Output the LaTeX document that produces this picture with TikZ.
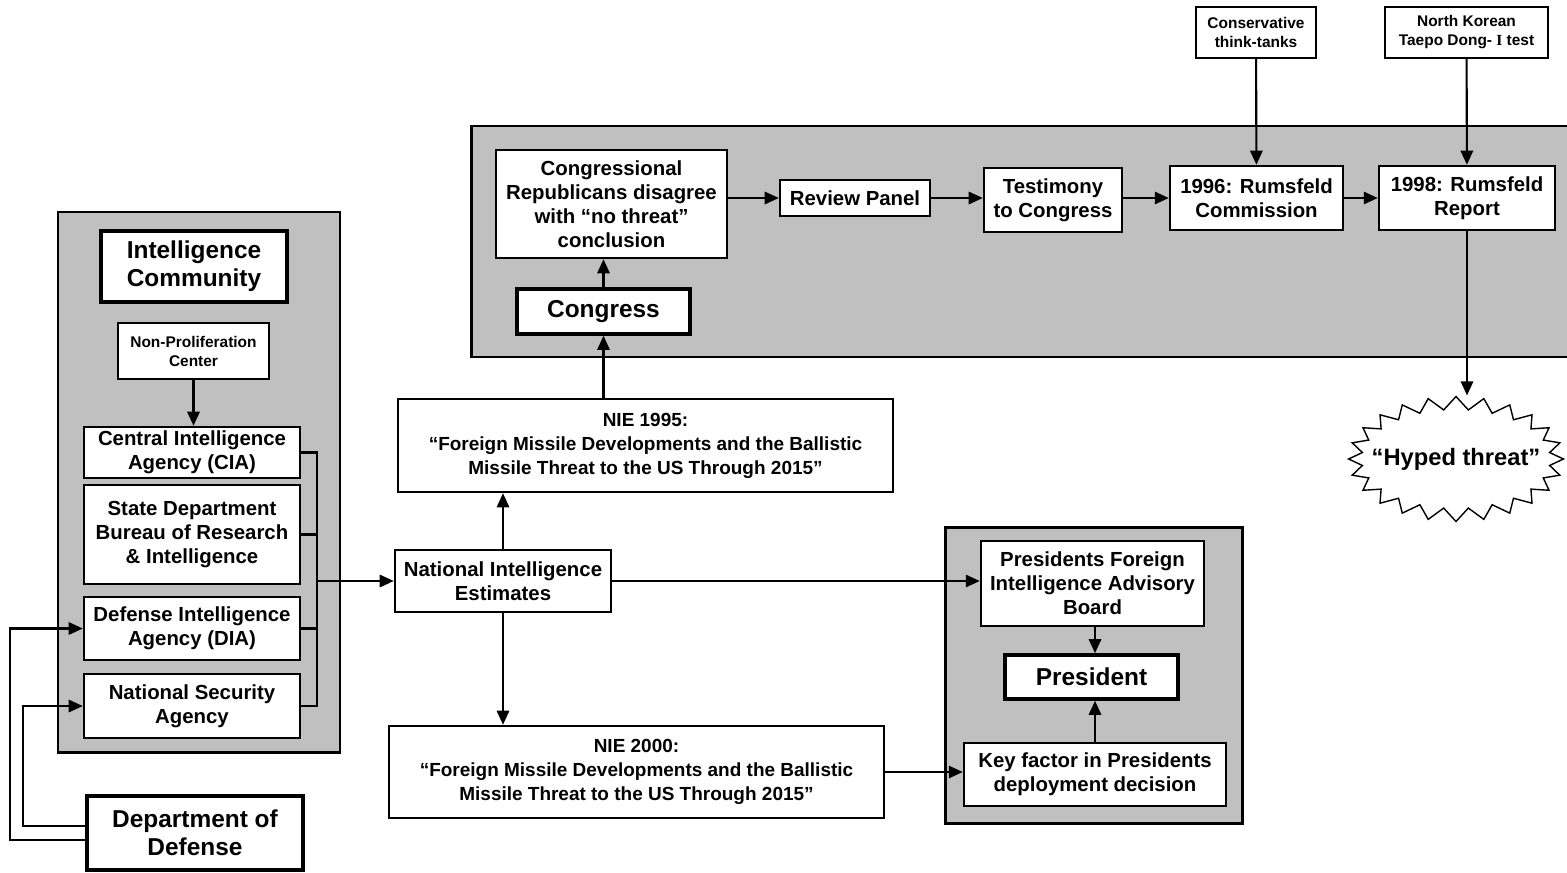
\documentclass[tikz,border=0pt]{standalone}
\usepackage{fontspec}
\setmainfont{Liberation Sans}
\newfontfamily\romanI{Liberation Serif}
\usetikzlibrary{arrows.meta}
\usetikzlibrary{shapes.symbols}
\definecolor{panelgray}{RGB}{192,192,192}
\newcommand\midfont{\bfseries\fontsize{11.6}{13.6}\selectfont}
\newcommand\bigfont{\bfseries\fontsize{13.9}{15.9}\selectfont}
\newcommand\smallfont{\bfseries\fontsize{8.8}{10.8}\selectfont}
\newcommand\niefont{\bfseries\fontsize{10.8}{13.6}\selectfont}
\newcommand\hypefont{\bfseries\fontsize{13.5}{15.5}\selectfont}

\begin{document}
\begin{tikzpicture}[x=0.02cm, y=-0.02cm,
  box/.style={draw, fill=white, line width=1.4pt, inner sep=0pt, align=center, font=\midfont},
  heavybox/.style={box, line width=2pt, font=\bigfont},
  thinbox/.style={box, line width=0.9pt, font=\smallfont},
  niebox/.style={box, font=\niefont},
  arr/.style={-{Triangle[length=8pt,width=7pt]}, line width=1.2pt},
  link/.style={line width=1.2pt},
  panel/.style={fill=panelgray, line width=1.7pt}]

\useasboundingbox (0,0) rectangle (1567,872);

\draw[panel] (58,212) rectangle (340,752);
\fill[panelgray] (471,126) rectangle (1567,357);
\draw[line width=1.7pt] (1567,126) -| (471,357) -- (1567,357);
\draw[panel] (945,527) rectangle (1242,823);

\node[heavybox, minimum width=3.72cm, minimum height=1.42cm] (ic) at (194,266.5) {Intelligence\\Community};
\node[thinbox, minimum width=3.02cm, minimum height=1.12cm] (npc) at (193.5,351) {Non-Proliferation\\Center};
\node[box, minimum width=4.32cm, minimum height=1.02cm] (cia) at (192,452.5) {Central Intelligence\\Agency (CIA)};
\node[box, minimum width=4.32cm, minimum height=1.98cm] (state) at (192,534.5) {State Department\\Bureau of Research\\\& Intelligence};
\node[box, minimum width=4.32cm, minimum height=1.26cm] (dia) at (192,628.5) {Defense Intelligence\\Agency (DIA)};
\node[box, minimum width=4.32cm, minimum height=1.28cm] (nsa) at (192,706) {National Security\\Agency};
\node[heavybox, minimum width=4.32cm, minimum height=1.48cm] (dod) at (195,833) {Department of\\Defense};

\node[box, minimum width=4.32cm, minimum height=1.24cm] (nie) at (503,581) {National Intelligence\\Estimates};
\node[niebox, minimum width=9.9cm, minimum height=1.86cm] (nie95) at (645.5,445.5) {NIE 1995:\\“Foreign Missile Developments and the Ballistic\\Missile Threat to the US Through 2015”};
\node[niebox, minimum width=9.9cm, minimum height=1.84cm] (nie00) at (636.5,772) {NIE 2000:\\“Foreign Missile Developments and the Ballistic\\Missile Threat to the US Through 2015”};

\node[heavybox, minimum width=3.46cm, minimum height=0.9cm] (congress) at (603.5,311.5) {Congress};
\node[box, minimum width=4.62cm, minimum height=2.16cm] (rep) at (611.5,204) {Congressional\\Republicans disagree\\with “no threat”\\conclusion};
\node[box, minimum width=3cm, minimum height=0.72cm] (review) at (855,198) {Review Panel};
\node[box, minimum width=2.76cm, minimum height=1.28cm] (testimony) at (1053,200) {Testimony\\to Congress};
\node[box, minimum width=3.46cm, minimum height=1.28cm] (r96) at (1256.5,198) {1996: Rumsfeld\\Commission};
\node[box, minimum width=3.52cm, minimum height=1.28cm] (r98) at (1467,198) {1998: Rumsfeld\\Report};
\node[thinbox, minimum width=2.4cm, minimum height=1.02cm] (think) at (1256,32.5) {Conservative\\think-tanks};
\node[thinbox, minimum width=3.26cm, minimum height=1.02cm] (nk) at (1466.5,32.5) {North Korean\\Taepo Dong- {\romanI I} test};
\node[draw, fill=white, starburst, starburst points=24, starburst point height=0.26cm, random starburst=0, line width=0.8pt, inner xsep=-10pt, inner ysep=0pt, minimum height=2.5cm, font=\hypefont] (hype) at (1456,459) {“Hyped threat”};

\node[box, minimum width=4.46cm, minimum height=1.7cm] (pfiab) at (1092.5,583.5) {Presidents Foreign\\Intelligence Advisory\\Board};
\node[heavybox, minimum width=3.46cm, minimum height=0.88cm] (pres) at (1091.5,677) {President};
\node[box, minimum width=5.24cm, minimum height=1.26cm] (keyf) at (1095,774.5) {Key factor in Presidents\\deployment decision};

\coordinate (bus) at (317,581);

\draw[arr] (npc.south) -- (npc.south |- cia.north);
\draw[link] (cia.east) -| (bus);
\draw[link] (state.east) -| (bus);
\draw[link] (dia.east) -| (bus);
\draw[link] (nsa.east) -| (bus);
\draw[arr] (bus) -- (nie.west);
\draw[arr] ([yshift=-4pt]dod.west) -- ++(-75,0) |- (dia.west);
\draw[arr] ([yshift=4pt]dod.west) -- ++(-62,0) |- (nsa.west);

\draw[arr] (nie.north) -- (nie.north |- nie95.south);
\draw[arr] (nie.south) -- (nie.south |- nie00.north);
\draw[arr] (nie.east) -- (nie.east -| pfiab.west);
\draw[arr] (nie00.east) -- (nie00.east -| keyf.west);

\draw[arr] (congress.south |- nie95.north) -- (congress.south);
\draw[arr] (congress.north) -- (congress.north |- rep.south);
\draw[arr] (rep.east |- review) -- (review.west);
\draw[arr] (review.east) -- (review.east -| testimony.west);
\draw[arr] (testimony.east |- r96) -- (r96.west);
\draw[arr] (r96) -- (r98);
\draw[arr] (think) -- (r96);
\draw[arr] (nk) -- (r98);
\draw[arr] (r98.south) -- (r98.south |- hype.north);

\draw[arr] (pfiab.south -| keyf) -- (pres.north -| keyf);
\draw[arr] (keyf.north) -- (keyf.north |- pres.south);

\end{tikzpicture}
\end{document}
